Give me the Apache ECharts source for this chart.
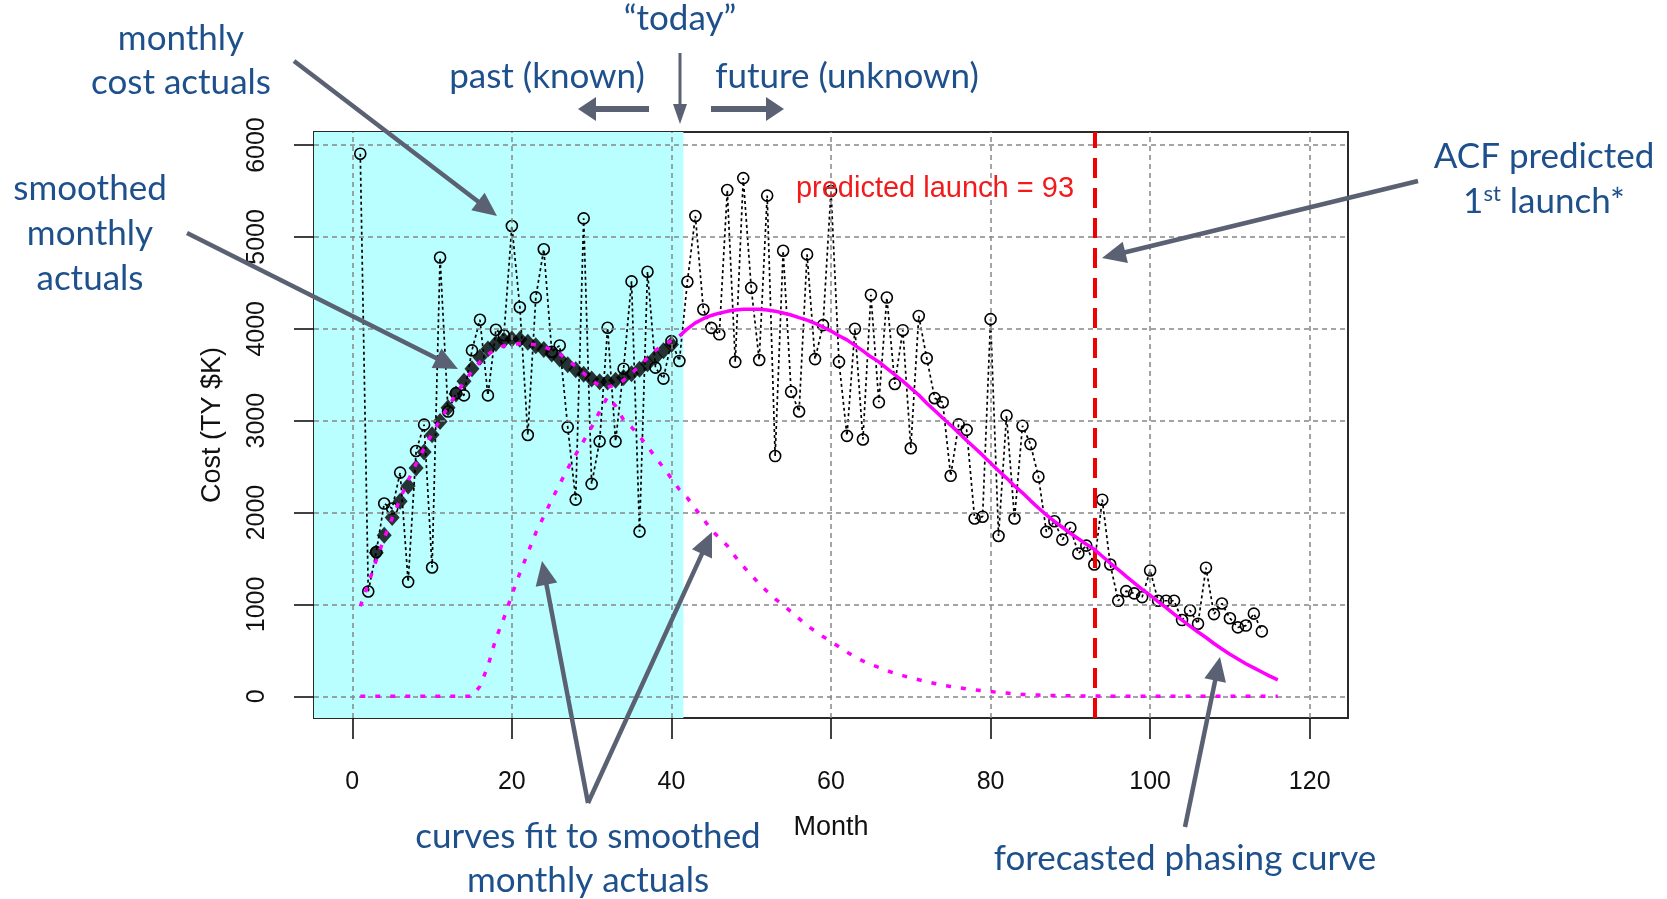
<!DOCTYPE html>
<html>
<head>
<meta charset="utf-8">
<title>Monthly cost phasing</title>
<script src="https://cdn.jsdelivr.net/npm/echarts@6/dist/echarts.min.js"></script>
<style>
  html, body { margin: 0; padding: 0; background: #fff; }
  #chart { width: 1667px; height: 899px; }
</style>
</head>
<body>
<div id="chart"></div>
<script>
// monthly cost actuals, months 1..114
var monthlyActuals = [
  5906, 1141, 1570, 2098, 2045, 2435, 1246, 2670, 2957, 1402,
  4776, 3100, 3300, 3275, 3765, 4098, 3275, 3989, 3930, 5119,
  4235, 2844, 4342, 4866, 3750, 3819, 2930, 2141, 5202, 2312,
  2775, 4011, 2775, 3566, 4516, 1793, 4621, 3577, 3458, 3866,
  3650, 4512, 5228, 4210, 4010, 3940, 5510, 3640, 5640, 4445,
  3660, 5450, 2615, 4850, 3315, 3100, 4810, 3670, 4040, 5500,
  3640, 2835, 4000, 2795, 4370, 3200, 4340, 3400, 3985, 2700,
  4140, 3680, 3245, 3200, 2400, 2960, 2900, 1935, 1955, 4105,
  1745, 3055, 1935, 2945, 2745, 2390, 1790, 1905, 1705, 1835,
  1555, 1640, 1435, 2140, 1435, 1040, 1145, 1120, 1080, 1370,
  1040, 1040, 1040, 830, 935, 790, 1400, 895, 1010, 850,
  750, 770, 900, 707
];

// smoothed monthly actuals, months 3..40
var smoothedStart = 3;
var smoothedActuals = [
  1562, 1754, 1946, 2123, 2290, 2486, 2660, 2848, 2990, 3141,
  3290, 3430, 3565, 3690, 3780, 3840, 3875, 3890, 3885, 3855,
  3815, 3775, 3725, 3670, 3610, 3555, 3505, 3455, 3425, 3420,
  3440, 3470, 3510, 3560, 3620, 3690, 3760, 3830
];

// fitted total over the known period, months 1..41
var fitTotal = [
  980, 1220, 1480, 1720, 1940, 2150, 2350, 2530, 2700, 2860,
  3010, 3150, 3290, 3420, 3540, 3640, 3720, 3780, 3815, 3830,
  3840, 3835, 3825, 3805, 3770, 3725, 3660, 3590, 3515, 3440,
  3380, 3365, 3390, 3440, 3515, 3600, 3685, 3765, 3825, 3870,
  3920
];

// forecasted phasing curve, months 41..116
var forecastStart = 41;
var forecastCurve = [
  3920, 4000, 4065, 4110, 4145, 4170, 4190, 4205, 4212, 4214,
  4212, 4205, 4192, 4172, 4150, 4122, 4095, 4060, 4020, 3975,
  3925, 3880, 3820, 3760, 3695, 3640, 3570, 3500, 3430, 3355,
  3280, 3190, 3110, 3030, 2950, 2870, 2785, 2705, 2625, 2540,
  2455, 2375, 2290, 2215, 2130, 2050, 1975, 1905, 1840, 1775,
  1715, 1655, 1600, 1525, 1450, 1380, 1305, 1235, 1165, 1100,
  1030, 965, 895, 830, 765, 700, 640, 575, 515, 457,
  405, 355, 310, 265, 220, 179
];

// second fitted component, months 1..116
var fitSecond = [
  0, 0, 0, 0, 0, 0, 0, 0, 0, 0,
  0, 0, 0, 0, 0, 110, 330, 630, 850, 1105,
  1340, 1560, 1780, 1960, 2140, 2310, 2480, 2630, 2780, 2930,
  3100, 3260, 3160, 3010, 2930, 2830, 2720, 2600, 2490, 2370,
  2250, 2160, 2040, 1930, 1810, 1725, 1640, 1520, 1415, 1320,
  1225, 1140, 1060, 995, 920, 845, 770, 710, 650, 595,
  540, 480, 430, 385, 345, 315, 280, 250, 225, 200,
  180, 160, 140, 120, 108, 95, 80, 70, 60, 52,
  42, 35, 27, 20, 16, 13, 10, 8, 6, 5,
  4, 3, 3, 2, 2, 1, 1, 1, 1, 1,
  0, 0, 0, 0, 0, 0, 0, 0, 0, 0,
  0, 0, 0, 0, 0, 0
];

var launchMonth = 93;
var todayMonth = 41.5;
var xTicks = [0, 20, 40, 60, 80, 100, 120];
var yTicks = [0, 1000, 2000, 3000, 4000, 5000, 6000];
var xMin = -4.8, xMax = 124.8;
var yMin = -236, yMax = 6142;

function pairs(values, start) {
  return values.map(function (v, i) { return [start + i, v]; });
}

var chart = echarts.init(document.getElementById('chart'));

var blue = '#1e508c';
var slate = '#5a6172';
var magenta = '#ff00ff';
var axisFont = 'Liberation Sans, Arial, sans-serif';
var noteFont = 'Lato, sans-serif';

// annotation arrow: shaft + triangular head
function arrow(x1, y1, x2, y2, w, hl, hw) {
  var dx = x2 - x1, dy = y2 - y1;
  var len = Math.sqrt(dx * dx + dy * dy);
  var ux = dx / len, uy = dy / len;
  var bx = x2 - ux * hl, by = y2 - uy * hl;
  var px = -uy * hw / 2, py = ux * hw / 2;
  return [
    {
      type: 'line', z: 100,
      shape: { x1: x1, y1: y1, x2: bx + ux, y2: by + uy },
      style: { stroke: slate, lineWidth: w }
    },
    {
      type: 'polygon', z: 100,
      shape: { points: [[x2, y2], [bx + px, by + py], [bx - px, by - py]] },
      style: { fill: slate }
    }
  ];
}

function note(text, x, y, size) {
  return {
    type: 'text', z: 100, x: x, y: y,
    style: {
      text: text, fill: blue,
      font: (size || 35) + 'px ' + noteFont,
      align: 'center', verticalAlign: 'middle'
    }
  };
}

var graphics = [].concat(
  arrow(294, 61, 497, 216, 4.5, 24, 22),
  arrow(187, 233, 458, 369, 4.5, 24, 22),
  arrow(680, 53, 680, 124, 3, 20, 14),
  arrow(649, 109, 578, 109, 6, 18, 24),
  arrow(711, 109, 784, 109, 6, 18, 24),
  arrow(1418, 181, 1102, 258, 4.5, 24, 22),
  arrow(588, 803, 542, 561, 4.5, 24, 22),
  arrow(588, 803, 712, 532, 4.5, 24, 22),
  arrow(1185, 827, 1220, 657, 4.5, 24, 22),
  [
    note('monthly', 181, 39),
    note('cost actuals', 181, 83),
    note('smoothed', 90, 189),
    note('monthly', 90, 234),
    note('actuals', 90, 279),
    note('\u201ctoday\u201d', 680, 19),
    note('past (known)', 547, 77),
    note('future (unknown)', 847, 77),
    note('ACF predicted', 1544, 157),
    {
      type: 'text', z: 100, x: 1544, y: 202,
      style: {
        text: '{n|1}{s|st}{n| launch*}',
        align: 'center', verticalAlign: 'middle',
        rich: {
          n: { fontSize: 35, fontFamily: noteFont, fill: blue, color: blue },
          s: { fontSize: 22, fontFamily: noteFont, fill: blue, color: blue, padding: [0, 0, 16, 0] }
        }
      }
    },
    note('curves fit to smoothed', 588, 837),
    note('monthly actuals', 588, 881),
    note('forecasted phasing curve', 1185, 859),
    {
      type: 'text', z: 90, x: 935, y: 189,
      style: {
        text: 'predicted launch = 93', fill: '#f21a1a',
        font: '29px ' + axisFont, align: 'center', verticalAlign: 'middle'
      }
    }
  ]
);

var gridLines = xTicks.map(function (v) { return { xAxis: v }; })
  .concat(yTicks.map(function (v) { return { yAxis: v }; }));

function plain(v) { return String(v); }

var option = {
  animation: false,
  backgroundColor: '#fff',
  grid: {
    left: 314, top: 132, width: 1034, height: 586,
    show: true, borderColor: '#2a2a2a', borderWidth: 2,
    backgroundColor: 'transparent'
  },
  xAxis: {
    type: 'value', min: xMin, max: xMax,
    name: 'Month', nameLocation: 'middle', nameGap: 96,
    nameTextStyle: { fontSize: 27, fontFamily: axisFont, color: '#111' },
    axisLine: { show: true, onZero: false, lineStyle: { color: '#2a2a2a', width: 2 } },
    axisTick: { show: true, customValues: xTicks, length: 21, lineStyle: { color: '#111', width: 1.6 } },
    axisLabel: { customValues: xTicks, formatter: plain, margin: 52, fontSize: 25, fontFamily: axisFont, color: '#111' },
    splitLine: { show: false }
  },
  yAxis: {
    type: 'value', min: yMin, max: yMax,
    name: 'Cost (TY $K)', nameLocation: 'middle', nameGap: 88, nameRotate: 90,
    nameTextStyle: { fontSize: 27, fontFamily: axisFont, color: '#111' },
    axisLine: { show: true, onZero: false, lineStyle: { color: '#2a2a2a', width: 2 } },
    axisTick: { show: true, customValues: yTicks, length: 20, lineStyle: { color: '#111', width: 1.6 } },
    axisLabel: {
      customValues: yTicks, formatter: plain, rotate: 90, margin: 44,
      align: 'center', verticalAlign: 'bottom',
      fontSize: 25, fontFamily: axisFont, color: '#111'
    },
    splitLine: { show: false }
  },
  series: [
    {
      name: 'past', type: 'line', data: [], z: 0, silent: true,
      markArea: {
        silent: true,
        itemStyle: { color: '#b9ffff' },
        data: [[{ xAxis: xMin }, { xAxis: todayMonth }]]
      }
    },
    {
      name: 'grid', type: 'line', data: [], z: 1, silent: true,
      markLine: {
        silent: true, symbol: ['none', 'none'],
        label: { show: false },
        lineStyle: { color: '#868686', type: [5, 4], width: 1.5 },
        data: gridLines
      }
    },
    {
      name: 'monthly cost actuals', type: 'line', z: 3,
      data: pairs(monthlyActuals, 1),
      symbol: 'circle', symbolSize: 11,
      itemStyle: { color: 'rgba(0,0,0,0)', borderColor: '#000', borderWidth: 1.6 },
      lineStyle: { color: '#000', width: 1.7, type: [3, 3] }
    },
    {
      name: 'smoothed monthly actuals', type: 'scatter', z: 4,
      data: pairs(smoothedActuals, smoothedStart),
      symbol: 'diamond', symbolSize: [15, 17],
      itemStyle: { color: '#000' }
    },
    {
      name: 'fit total', type: 'line', z: 5,
      data: pairs(fitTotal, 1), symbol: 'none',
      lineStyle: { color: magenta, width: 3.5, type: [5, 10] }
    },
    {
      name: 'fit second', type: 'line', z: 5,
      data: pairs(fitSecond, 1), symbol: 'none',
      lineStyle: { color: magenta, width: 3.5, type: [5, 10] }
    },
    {
      name: 'forecast', type: 'line', z: 5,
      data: pairs(forecastCurve, forecastStart), symbol: 'none',
      lineStyle: { color: magenta, width: 3.5 }
    },
    {
      name: 'launch', type: 'line', data: [], z: 6, silent: true,
      markLine: {
        silent: true, symbol: ['none', 'none'],
        label: { show: false },
        lineStyle: { color: '#f00000', type: [20, 10], width: 4 },
        data: [{ xAxis: launchMonth }]
      }
    }
  ],
  graphic: graphics
};

chart.setOption(option);
</script>
</body>
</html>
